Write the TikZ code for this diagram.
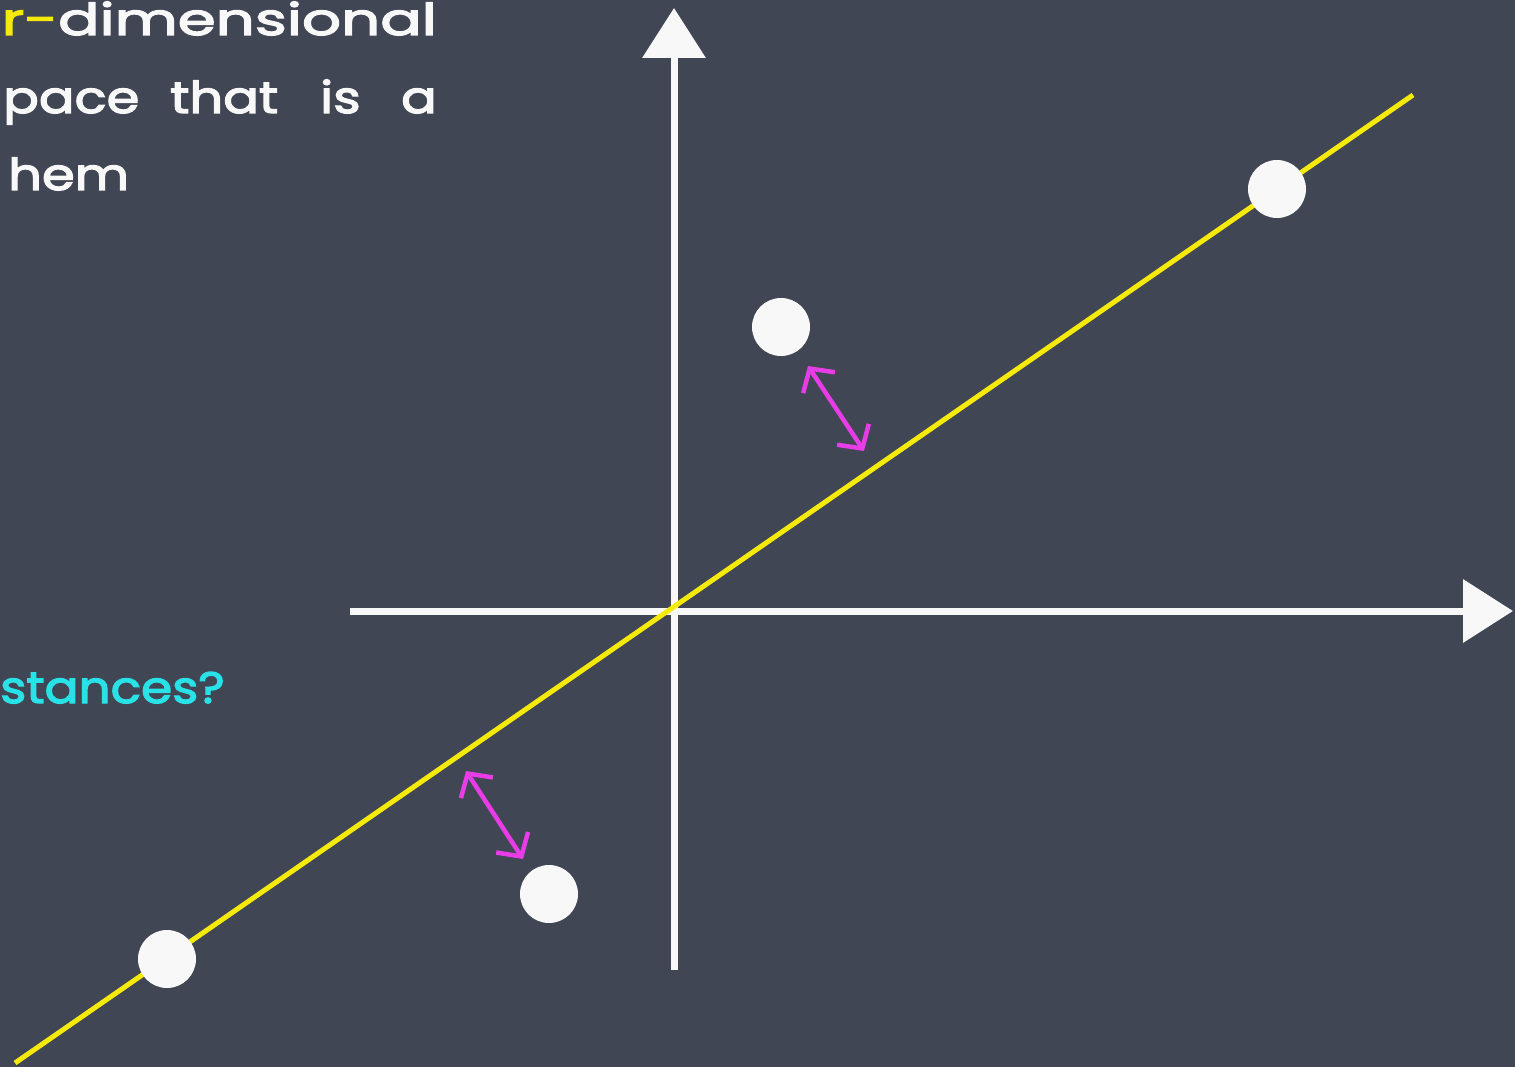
\documentclass[tikz,border=0pt]{standalone}
\usepackage{fontspec}
\usetikzlibrary{arrows.meta}
\newfontfamily\chalkfont[FakeStretch=1.2,FakeBold=3]{Poppins}
\definecolor{board}{RGB}{65,70,84}
\definecolor{chalk}{RGB}{248,248,248}
\definecolor{chalkyellow}{RGB}{246,234,10}
\definecolor{chalkcyan}{RGB}{40,226,232}
\definecolor{chalkpink}{RGB}{232,60,230}
\tikzset{
  txt/.style={inner sep=0pt, text=chalk, font=\chalkfont\fontsize{44}{44}\selectfont},
  axis/.style={draw=chalk, line width=7pt, -{Triangle[length=50pt,width=62pt]}},
  dot/.style={circle, fill=chalk, inner sep=0pt, minimum size=58pt},
  fitline/.style={draw=chalkyellow, line width=5pt},
  gap/.style={draw=chalkpink, line width=4.5pt, {Straight Barb[length=17pt,width=38pt,line width=4.5pt]}-{Straight Barb[length=17pt,width=38pt,line width=4.5pt]}}
}
\begin{document}
\begin{tikzpicture}[x=1pt,y=-1pt]
\useasboundingbox (0,0) rectangle (1515,1067);
\clip (0,0) rectangle (1515,1067);
\fill[board] (0,0) rectangle (1515,1067);
% text
\node[txt, anchor=base east] (t1) at (437,35) {\scalebox{1.16}[1]{{\color{chalkyellow}r-}dimensional}};
\node[txt, anchor=base west] (t2a) at (3,113) {pace};
\node[txt, anchor=base west] (t2b) at (170,113) {that};
\node[txt, anchor=base west] (t2c) at (320,113) {is};
\node[txt, anchor=base east] (t2d) at (437,113) {a};
\node[txt, anchor=base west] (t3) at (8,190) {hem};
\node[txt, anchor=base west, text=chalkcyan] (t4) at (0,703) {\scalebox{0.95}[1]{stances?}};
% axes
\coordinate (xs) at (350,611);
\coordinate (xe) at (1513,611);
\coordinate (ys) at (674,970);
\coordinate (ye) at (674,8);
\draw[axis] (xs) -- (xe);
\draw[axis] (ys) -- (ye);
% fitted line
\coordinate (la) at (15,1063);
\coordinate (lb) at (1413,95);
\draw[fitline] (la) -- (lb);
% points
\node[dot] (p1) at (1277,189) {};
\node[dot] (p2) at (781,327) {};
\node[dot] (p3) at (549,894) {};
\node[dot] (p4) at (167,959) {};
% distance arrows
\coordinate (a1) at (808,366);
\coordinate (a2) at (864,451);
\coordinate (b1) at (466,771);
\coordinate (b2) at (523,859);
\draw[gap] (a1) -- (a2);
\draw[gap] (b1) -- (b2);
\end{tikzpicture}
\end{document}
